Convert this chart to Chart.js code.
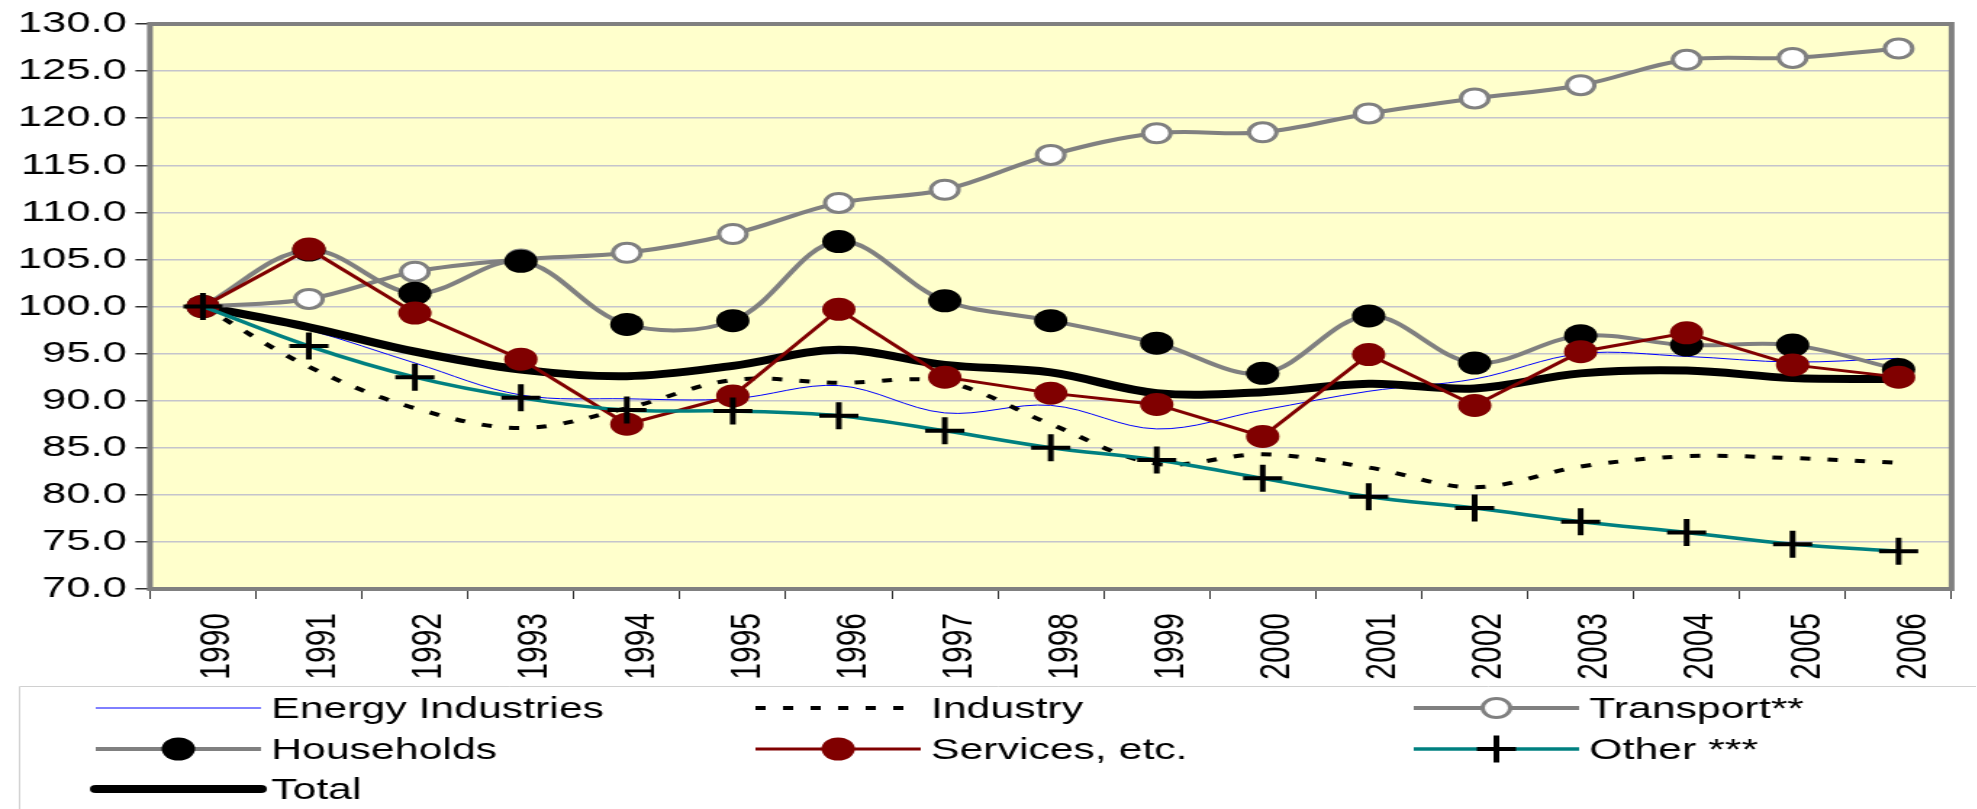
<!DOCTYPE html>
<html>
<head>
<meta charset="utf-8">
<script src="https://cdn.jsdelivr.net/npm/chart.js@4.4.0/dist/chart.umd.min.js"></script>
<style>
  html, body { margin: 0; padding: 0; background: #fff; overflow: hidden; }
  #wrap { position: absolute; left: 0; top: 0; height: 809px; transform-origin: 0 0; }
</style>
</head>
<body>
<div id="wrap"><canvas id="myCanvas"></canvas></div>
<script>
// the source picture is an old spreadsheet chart stretched sideways, so the
// whole canvas is drawn narrower and scaled back out in x
const STRETCH = 1.45;

const years = ["1990", "1991", "1992", "1993", "1994", "1995", "1996", "1997", "1998",
  "1999", "2000", "2001", "2002", "2003", "2004", "2005", "2006"];
const energyIndustries = [100, 97.5, 94.0, 90.6, 90.2, 90.2, 91.6, 88.7, 89.5, 87.0, 89.0, 91.0, 92.3, 95.0, 94.7, 94.1, 94.5];
const industry = [100, 93.6, 89.2, 87.1, 89.2, 92.2, 91.9, 92.0, 87.5, 83.3, 84.3, 82.9, 80.8, 83.0, 84.1, 83.9, 83.4];
const transport = [100, 100.8, 103.7, 105.0, 105.7, 107.7, 111.0, 112.4, 116.1, 118.4, 118.5, 120.5, 122.1, 123.5, 126.2, 126.4, 127.4];
const households = [100, 106.0, 101.4, 104.8, 98.1, 98.5, 106.9, 100.6, 98.5, 96.1, 92.9, 99.0, 94.0, 96.9, 95.9, 95.9, 93.3];
const services = [100, 106.1, 99.3, 94.4, 87.5, 90.5, 99.7, 92.5, 90.8, 89.6, 86.2, 94.9, 89.5, 95.2, 97.2, 93.8, 92.5];
const other = [100, 95.8, 92.5, 90.3, 89.0, 88.9, 88.4, 86.8, 85.0, 83.7, 81.75, 79.8, 78.6, 77.15, 76.0, 74.75, 74.0];
const total = [100, 97.8, 95.2, 93.3, 92.6, 93.7, 95.4, 93.8, 93.0, 90.8, 90.9, 91.8, 91.3, 92.9, 93.2, 92.4, 92.3];

const FONT = "'Liberation Sans', Arial, sans-serif";

const wrap = document.getElementById("wrap");
wrap.style.width = (1977 / STRETCH) + "px";
wrap.style.transform = "scaleX(" + STRETCH + ")";

// yellow plot area + grey frame
const plotArea = {
  id: "plotArea",
  beforeDraw(chart) {
    const { ctx, chartArea: a } = chart;
    ctx.save();
    ctx.fillStyle = "#ffffcc";
    ctx.fillRect(a.left, a.top, a.right - a.left, a.bottom - a.top);
    ctx.restore();
  },
  afterDraw(chart) {
    const { ctx, chartArea: a } = chart;
    ctx.save();
    ctx.strokeStyle = "#808080";
    ctx.lineWidth = 4;
    ctx.strokeRect(a.left, a.top, a.right - a.left, a.bottom - a.top);
    ctx.restore();
  }
};

// three-column legend under the axis labels
const legendCols = [66, 521, 975];
const legendRows = [708, 749, 789];
const gridLegend = {
  id: "gridLegend",
  afterDraw(chart) {
    const ctx = chart.ctx;
    ctx.save();
    ctx.strokeStyle = "#d0d0d0";
    ctx.lineWidth = 1;
    ctx.beginPath();
    ctx.moveTo(chart.width + 5, 686.5);
    ctx.lineTo(13.5, 686.5);
    ctx.lineTo(13.5, chart.height + 5);
    ctx.stroke();

    chart.data.datasets.forEach((ds, i) => {
      const x0 = legendCols[i % 3];
      const y = legendRows[Math.floor(i / 3)];
      const x1 = x0 + 114;

      ctx.save();
      ctx.strokeStyle = ds.borderColor;
      ctx.lineWidth = ds.borderWidth;
      ctx.lineCap = ds.borderCapStyle || "butt";
      ctx.setLineDash(ds.borderDash || []);
      ctx.beginPath();
      ctx.moveTo(x0, y);
      ctx.lineTo(x1, y);
      ctx.stroke();
      ctx.restore();

      if (ds.pointRadius > 0) {
        ctx.save();
        ctx.fillStyle = ds.pointBackgroundColor || ds.borderColor;
        ctx.strokeStyle = ds.pointBorderColor || ds.borderColor;
        ctx.lineWidth = ds.pointBorderWidth || 0;
        Chart.helpers.drawPoint(ctx, {
          pointStyle: ds.pointStyle || "circle",
          radius: ds.pointRadius,
          rotation: 0,
          borderWidth: ds.pointBorderWidth || 0
        }, (x0 + x1) / 2, y);
        ctx.restore();
      }

      ctx.fillStyle = "#000";
      ctx.font = "29.5px " + FONT;
      ctx.textBaseline = "alphabetic";
      ctx.textAlign = "left";
      ctx.fillText(ds.label, x1 + 7, y + 10);
    });
    ctx.restore();
  }
};

new Chart(document.getElementById("myCanvas"), {
  type: "line",
  data: {
    labels: years,
    datasets: [
      {
        label: "Energy Industries", data: energyIndustries,
        borderColor: "#0000ff", borderWidth: 1, pointRadius: 0, order: 6
      },
      {
        label: "Industry", data: industry,
        borderColor: "#000000", borderWidth: 4, borderDash: [7, 12], pointRadius: 0, order: 5
      },
      {
        label: "Transport**", data: transport,
        borderColor: "#808080", borderWidth: 4,
        pointRadius: 9.5, pointBackgroundColor: "#ffffff", pointBorderColor: "#808080", pointBorderWidth: 3,
        order: 3
      },
      {
        label: "Households", data: households,
        borderColor: "#808080", borderWidth: 4,
        pointRadius: 11.5, pointBackgroundColor: "#000000", pointBorderColor: "#000000", pointBorderWidth: 0,
        order: 2
      },
      {
        label: "Services, etc.", data: services,
        borderColor: "#800000", borderWidth: 3, tension: 0,
        pointRadius: 11.5, pointBackgroundColor: "#800000", pointBorderColor: "#800000", pointBorderWidth: 0,
        order: 1
      },
      {
        label: "Other ***", data: other,
        borderColor: "#008080", borderWidth: 3.5,
        pointStyle: "cross", pointRadius: 13.5, pointBorderColor: "#000000", pointBorderWidth: 4,
        order: 0
      },
      {
        label: "Total", data: total,
        borderColor: "#000000", borderWidth: 8, borderCapStyle: "round", pointRadius: 0, order: 4
      }
    ]
  },
  options: {
    responsive: true,
    maintainAspectRatio: false,
    animation: false,
    layout: { padding: { top: 19, right: 6, bottom: 123, left: 0 } },
    elements: { line: { tension: 0.35 } },
    plugins: {
      legend: { display: false },
      tooltip: { enabled: false }
    },
    scales: {
      x: {
        offset: true,
        border: { display: false },
        grid: { offset: true, drawOnChartArea: false, tickLength: 10, tickColor: "#303030", lineWidth: 1 },
        ticks: {
          color: "#000",
          font: { family: FONT, size: 30 },
          minRotation: 90,
          maxRotation: 90,
          autoSkip: false,
          padding: 14,
          labelOffset: 10
        },
        afterFit: (scale) => { scale.height = 97; }
      },
      y: {
        min: 70,
        max: 130,
        border: { display: false },
        grid: { color: "#c4c4cc", lineWidth: 1.5, tickLength: 10, tickColor: "#303030" },
        ticks: {
          stepSize: 5,
          padding: 6,
          color: "#000",
          font: { family: FONT, size: 30 },
          callback: (v) => v.toFixed(1)
        },
        afterFit: (scale) => { scale.width = 103.4; }
      }
    }
  },
  plugins: [plotArea, gridLegend]
});
</script>
</body>
</html>
